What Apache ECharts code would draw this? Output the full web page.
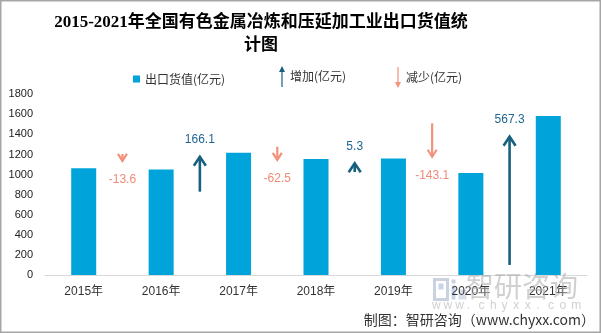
<!DOCTYPE html>
<html>
<head>
<meta charset="utf-8">
<script src="https://cdn.jsdelivr.net/npm/echarts@6/dist/echarts.min.js"></script>
<style>html,body{margin:0;padding:0;background:#fff;}#c{width:601px;height:333px;}</style>
</head>
<body>
<div id="c"></div>
<script>
const categories = ['2015年', '2016年', '2017年', '2018年', '2019年', '2020年', '2021年'];
const exportValues = [1064.5, 1050.9, 1217.0, 1154.5, 1159.8, 1016.7, 1584.0];
const changes = [-13.6, 166.1, -62.5, 5.3, -143.1, 567.3];
const arrowStart = [1205, 830, 1278, 1026, 1511, 100];
const arrowEnd = [1136, 1178, 1146, 1113, 1178, 1378];
const yTicks = { min: 0, max: 1800, interval: 200 };

const UP = '#17607f', UP_TXT = '#1f6590';
const DOWN = '#f4917b', DOWN_TXT = '#f08b78';
const BAR = '#00a3da';

const incData = [], decData = [];
changes.forEach((c, i) => {
  const d = [i, arrowStart[i], arrowEnd[i], c];
  (c > 0 ? incData : decData).push(d);
});

function makeRender(up) {
  return function (params, api) {
    const i = api.value(0), s = api.value(1), e = api.value(2), v = api.value(3);
    const half = api.size([1, 0])[0] / 2;
    const p0 = api.coord([i, s]), p1 = api.coord([i, e]);
    const x = p0[0] + half;
    const col = up ? UP : DOWN;
    const hw = up ? 6 : 4.5, hh = up ? 9 : 7;
    const dir = up ? 1 : -1;
    return {
      type: 'group',
      children: [
        { type: 'line', shape: { x1: x, y1: p0[1], x2: x, y2: p1[1] },
          style: { stroke: col, lineWidth: up ? 2.6 : 2.2 } },
        { type: 'polyline', shape: { points: [[x - hw, p1[1] + dir * hh], [x, p1[1]], [x + hw, p1[1] + dir * hh]] },
          style: { stroke: col, lineWidth: up ? 2.6 : 2.2, fill: null } },
        { type: 'text', x: x, y: up ? p1[1] - 17 : p1[1] + 19,
          style: { text: String(v), fill: up ? UP_TXT : DOWN_TXT, fontSize: 12,
                   fontFamily: 'Liberation Sans, Noto Sans CJK SC', align: 'center', verticalAlign: 'middle' } }
      ]
    };
  };
}

const wmChars = 'www.chyxx.com'.split('');
const wmGraphics = wmChars.map((ch, k) => ({
  type: 'text', left: 432 + k * 11.6, top: 300, z: 1,
  style: { text: ch, fill: 'rgba(170,170,170,0.55)', fontSize: 12, fontFamily: 'Liberation Sans' }
}));

const chart = echarts.init(document.getElementById('c'), null, { renderer: 'canvas' });
chart.setOption({
  animation: false,
  backgroundColor: '#fff',
  title: {
    text: '2015-2021年全国有色金属冶炼和压延加工业出口货值统\n计图',
    left: 261, top: 11, textAlign: 'center', padding: 0,
    textStyle: { fontSize: 17, fontWeight: 'bold', lineHeight: 23, color: '#000',
                 fontFamily: 'Liberation Serif, Noto Sans CJK SC' }
  },
  legend: [
    { data: ['出口货值(亿元)'], left: 133, top: 73, icon: 'rect', itemWidth: 7, itemHeight: 7, padding: 0,
      textStyle: { fontSize: 12, color: '#333', fontFamily: 'Noto Sans CJK SC' } },
    { data: ['增加(亿元)'], left: 279, top: 66, icon: 'path://M3,0 L6,6 L3.6,6 L3.6,21 L2.4,21 L2.4,6 L0,6 Z',
      itemWidth: 6, itemHeight: 21, padding: 0,
      textStyle: { fontSize: 12, color: '#333', fontFamily: 'Noto Sans CJK SC', padding: [4, 0, 0, 0] } },
    { data: ['减少(亿元)'], left: 395, top: 67, icon: 'path://M2.4,0 L3.6,0 L3.6,15 L6,15 L3,21 L0,15 L2.4,15 Z',
      itemWidth: 6, itemHeight: 21, padding: 0,
      textStyle: { fontSize: 12, color: '#333', fontFamily: 'Noto Sans CJK SC', padding: [4, 0, 0, 0] } }
  ],
  grid: { left: 45, right: 14, top: 94.3, bottom: 58 },
  xAxis: {
    type: 'category', data: categories,
    axisTick: { show: false },
    axisLine: { lineStyle: { color: '#d9d9d9', width: 1 } },
    axisLabel: { margin: 11, fontSize: 12, color: '#333', fontFamily: 'Liberation Sans, Noto Sans CJK SC' }
  },
  yAxis: {
    type: 'value', min: yTicks.min, max: yTicks.max, interval: yTicks.interval,
    axisLine: { show: false }, axisTick: { show: false }, splitLine: { show: false },
    axisLabel: { margin: 12, fontSize: 11, color: '#222', fontFamily: 'Liberation Sans',
                 formatter: v => String(v) }
  },
  series: [
    { name: '出口货值(亿元)', type: 'bar', data: exportValues, barWidth: 25,
      itemStyle: { color: BAR }, z: 2 },
    { name: '增加(亿元)', type: 'custom', data: incData, encode: { x: 0, y: [1, 2] },
      renderItem: makeRender(true), itemStyle: { color: UP }, clip: false, z: 3 },
    { name: '减少(亿元)', type: 'custom', data: decData, encode: { x: 0, y: [1, 2] },
      renderItem: makeRender(false), itemStyle: { color: DOWN }, clip: false, z: 3 }
  ],
  graphic: [
    { type: 'rect', shape: { x: 0.75, y: 0.75, width: 599.5, height: 331.5 },
      style: { fill: null, stroke: '#a6a6a6', lineWidth: 1.5 }, z: 10 },
    { type: 'group', left: 432, top: 277, z: 1, children: [
      { type: 'rect', shape: { x: 0, y: 0, width: 13, height: 20 }, style: { fill: null, stroke: 'rgba(180,190,210,0.7)', lineWidth: 3 } },
      { type: 'rect', shape: { x: 4, y: 4, width: 5, height: 6 }, style: { fill: 'rgba(160,185,225,0.6)' } },
      { type: 'rect', shape: { x: 17, y: 6, width: 4, height: 14 }, style: { fill: 'rgba(160,185,225,0.6)' } },
      { type: 'rect', shape: { x: 17, y: 0, width: 4, height: 4 }, style: { fill: 'rgba(180,190,210,0.7)' } },
      { type: 'rect', shape: { x: 24, y: 10, width: 8, height: 10 }, style: { fill: 'rgba(180,190,210,0.5)' } }
    ]},
    { type: 'text', left: 466, top: 272, z: 1,
      style: { text: '智研咨询', fill: 'rgba(170,170,170,0.55)', fontSize: 28, fontFamily: 'Noto Sans CJK SC' } },
    ...wmGraphics,
    { type: 'text', right: 6, top: 313, z: 5,
      style: { text: '制图：智研咨询（www.chyxx.com）', fill: '#333', fontSize: 14, fontFamily: 'Noto Sans CJK SC' } }
  ]
});
</script>
</body>
</html>
